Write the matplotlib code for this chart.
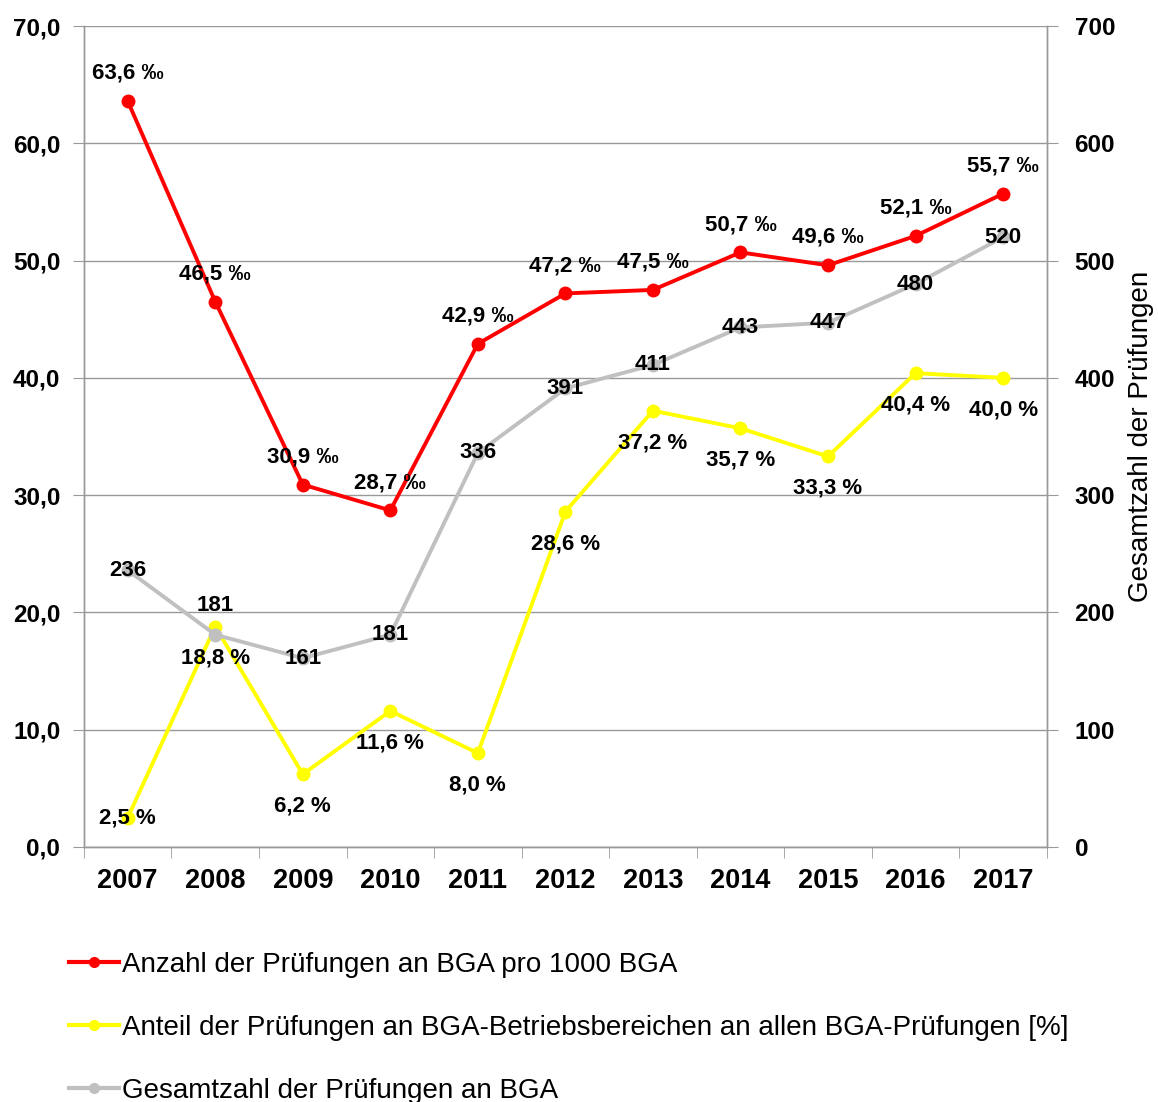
"""
Prüfungen an BGA 2007-2017: Quote pro 1000 BGA, Anteil Betriebsbereiche, Gesamtzahl.
"""

import matplotlib
matplotlib.use("Agg")
import matplotlib.pyplot as plt
from matplotlib.lines import Line2D
from matplotlib.ticker import FixedLocator, FuncFormatter

plt.rcParams["font.family"] = ["Liberation Sans", "DejaVu Sans"]

# ── Data ──────────────────────────────────────────────────────────────────────
years = ["2007", "2008", "2009", "2010", "2011", "2012",
         "2013", "2014", "2015", "2016", "2017"]
pro_1000 = [63.6, 46.5, 30.9, 28.7, 42.9, 47.2, 47.5, 50.7, 49.6, 52.1, 55.7]
anteil = [2.5, 18.8, 6.2, 11.6, 8.0, 28.6, 37.2, 35.7, 33.3, 40.4, 40.0]
gesamt = [236, 181, 161, 181, 336, 391, 411, 443, 447, 480, 520]

legend_labels = [
    "Anzahl der Prüfungen an BGA pro 1000 BGA",
    "Anteil der Prüfungen an BGA-Betriebsbereichen an allen BGA-Prüfungen [%]",
    "Gesamtzahl der Prüfungen an BGA",
]

# label offsets in points (Excel moved a few labels by hand)
off_red = [20] * len(years)
off_yel = [-23] * len(years)
off_yel[0] = 0
off_gray = [0] * len(years)
off_gray[1] = 21

RED, YEL, GRAY = "#ff0000", "#ffff00", "#c0c0c0"
GRID = "#999999"

def de(v, nd=1):
    return f"{v:.{nd}f}".replace(".", ",")

# ── Figure ────────────────────────────────────────────────────────────────────
fig = plt.figure(figsize=(11.58, 11.02), dpi=100)
ax = fig.add_axes([0.0725, 0.2314, 0.904 - 0.0725, 0.9764 - 0.2314])
ax2 = ax.twinx()

x = list(range(len(years)))

ax.plot(x, pro_1000, color=RED, lw=2.8, marker="o", ms=9, zorder=3)
ax.plot(x, anteil, color=YEL, lw=2.8, marker="o", ms=9, zorder=3)
ax2.plot(x, gesamt, color=GRAY, lw=2.8, marker="o", ms=9, zorder=3)

ax.set_xlim(-0.5, len(years) - 0.5)
ax.set_ylim(0, 70)
ax2.set_ylim(0, 700)

ax.yaxis.set_major_locator(FixedLocator([0, 10, 20, 30, 40, 50, 60, 70]))
ax.yaxis.set_major_formatter(FuncFormatter(lambda v, p: de(v)))
ax2.yaxis.set_major_locator(FixedLocator(range(0, 701, 100)))
ax2.yaxis.set_major_formatter(FuncFormatter(lambda v, p: f"{v:.0f}"))
ax.grid(axis="y", color=GRID, lw=1)
ax.set_axisbelow(True)

ax.set_xticks(x)
ax.set_xticklabels(years)
ax.set_xticks([i - 0.5 for i in range(len(years) + 1)], minor=True)
ax.tick_params(axis="x", which="major", length=0, pad=15, labelsize=19.5)
ax.tick_params(axis="x", which="minor", length=8, color=GRID, direction="out")
ax.tick_params(axis="y", length=8, color=GRID, pad=9, labelsize=17.5)
ax2.tick_params(axis="y", length=8, color=GRID, pad=12, labelsize=17.5)
for lab in ax.get_xticklabels() + ax.get_yticklabels() + ax2.get_yticklabels():
    lab.set_fontweight("bold")

for a in (ax, ax2):
    a.spines["top"].set_visible(False)
    for s in ("left", "right", "bottom"):
        a.spines[s].set_color(GRID)
        a.spines[s].set_linewidth(1)

ax2.set_ylabel("Gesamtzahl der Prüfungen", fontsize=20, labelpad=9)

# ── Data labels (drawn on top axes so they sit above all lines) ──────────────
lab_kw = dict(textcoords="offset points", ha="center", va="center",
              fontsize=16, fontweight="bold", color="black", zorder=6)
for i in x:
    ax2.annotate(f"{de(pro_1000[i])} ‰", xy=(i, pro_1000[i]), xycoords=ax.transData,
                 xytext=(0, off_red[i]), **lab_kw)
    ax2.annotate(f"{de(anteil[i])} %", xy=(i, anteil[i]), xycoords=ax.transData,
                 xytext=(0, off_yel[i]), **lab_kw)
    ax2.annotate(f"{gesamt[i]}", xy=(i, gesamt[i]),
                 xytext=(0, off_gray[i]), **lab_kw)

# ── Legend ────────────────────────────────────────────────────────────────────
handles = [Line2D([], [], color=c, lw=3, marker="o", ms=7) for c in (RED, YEL, GRAY)]
fig.legend(handles, legend_labels, loc="upper left",
           bbox_to_anchor=(0.050, 0.1465), frameon=False, fontsize=20,
           handlelength=1.8, handletextpad=0.1, labelspacing=1.33,
           borderaxespad=0)

fig.savefig("out.png", dpi=100)
